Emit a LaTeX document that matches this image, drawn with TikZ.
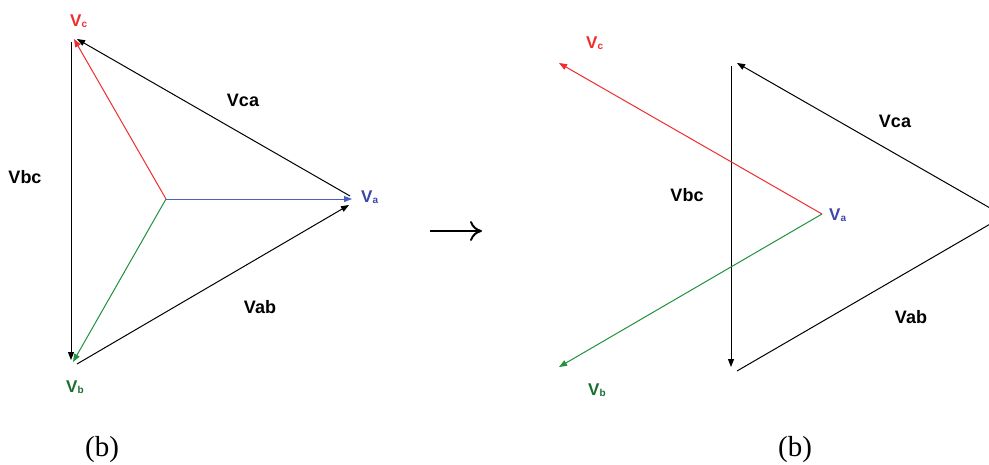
\documentclass[tikz,border=0pt]{standalone}
\usepackage{fontspec}
\setmainfont{Liberation Serif}
\newfontfamily\labfont{Liberation Sans}
\usetikzlibrary{arrows.meta}
\definecolor{vred}{RGB}{240,45,45}
\definecolor{vblue}{RGB}{75,95,195}
\definecolor{vbluetext}{RGB}{60,70,170}
\definecolor{vgreen}{RGB}{35,145,60}
\definecolor{vgreentext}{RGB}{25,110,45}
\newcommand{\phlab}[1]{V\raisebox{-1.5pt}{\fontsize{10}{10}\selectfont #1}}
\begin{document}
\begin{tikzpicture}[x=1pt,y=-1pt,
  vec/.style={line width=1pt,-{Triangle[length=8pt,width=6pt]}},
  bigarrow/.style={line width=2pt,-{Computer Modern Rightarrow[length=12pt,width=20pt,line width=2pt]}},
  lbl/.style={font=\labfont\bfseries\fontsize{18}{20}\selectfont, anchor=base, inner sep=0pt},
  phl/.style={font=\labfont\bfseries\fontsize{17}{20}\selectfont, anchor=base west, inner sep=0pt},
  captxt/.style={font=\fontsize{29}{32}\selectfont, anchor=base, inner sep=0pt}]
\useasboundingbox (0,0) rectangle (989,464);
\clip (0,0) rectangle (989,464);
\fill[white] (0,0) rectangle (989,464);

% ---------- left diagram ----------
\coordinate (O) at (166,199);
\coordinate (Atip) at (352,199);
\coordinate (Ctip) at (74,39);
\coordinate (Btip) at (73,362);
\coordinate (bcS) at (71,42);
\coordinate (bcE) at (71,360);
\coordinate (caS) at (350,196);
\coordinate (caE) at (77,39);
\coordinate (abS) at (77,364);
\coordinate (abE) at (349,205);

\draw[vec,black] (bcS) -- (bcE);
\draw[vec,black] (caS) -- (caE);
\draw[vec,black] (abS) -- (abE);
\draw[vec,vblue] (O) -- (Atip);
\draw[vec,vred] (O) -- (Ctip);
\draw[vec,vgreen] (O) -- (Btip);

\node[lbl] (Lbc) at (25,183) {Vbc};
\node[lbl] (Lca) at (243,106) {Vca};
\node[lbl] (Lab) at (260,313) {Vab};
\node[phl,text=vbluetext] (La) at (361,202) {\phlab{a}};
\node[phl,text=vred] (Lc) at (70,26) {\phlab{c}};
\node[phl,text=vgreentext] (Lb) at (66,392) {\phlab{b}};

% ---------- transition arrow ----------
\coordinate (arrS) at (430,231);
\coordinate (arrE) at (482,231);
\draw[bigarrow] (arrS) -- (arrE);

% ---------- right diagram ----------
\coordinate (O2) at (822,214);
\coordinate (C2) at (559,63);
\coordinate (B2) at (559,367);
\coordinate (bc2S) at (731,66);
\coordinate (bc2E) at (731,367);
\coordinate (P2) at (1004,216);
\coordinate (ca2E) at (737,63);
\coordinate (ab2S) at (737,371);

\draw[vec,black] (bc2S) -- (bc2E);
\draw[vec,black] (P2) -- (ca2E);
\draw[vec,black] (ab2S) -- (P2);
\draw[vec,vred] (O2) -- (C2);
\draw[vec,vgreen] (O2) -- (B2);

\node[lbl] (Rbc) at (687,201) {Vbc};
\node[lbl] (Rca) at (895,127) {Vca};
\node[lbl] (Rab) at (911,323) {Vab};
\node[phl,text=vbluetext] (Ra) at (829,220) {\phlab{a}};
\node[phl,text=vred] (Rc) at (586,48) {\phlab{c}};
\node[phl,text=vgreentext] (Rb) at (588,395) {\phlab{b}};

% ---------- captions ----------
\node[captxt] (capL) at (102,456) {(b)};
\node[captxt] (capR) at (795,456) {(b)};
\end{tikzpicture}
\end{document}
